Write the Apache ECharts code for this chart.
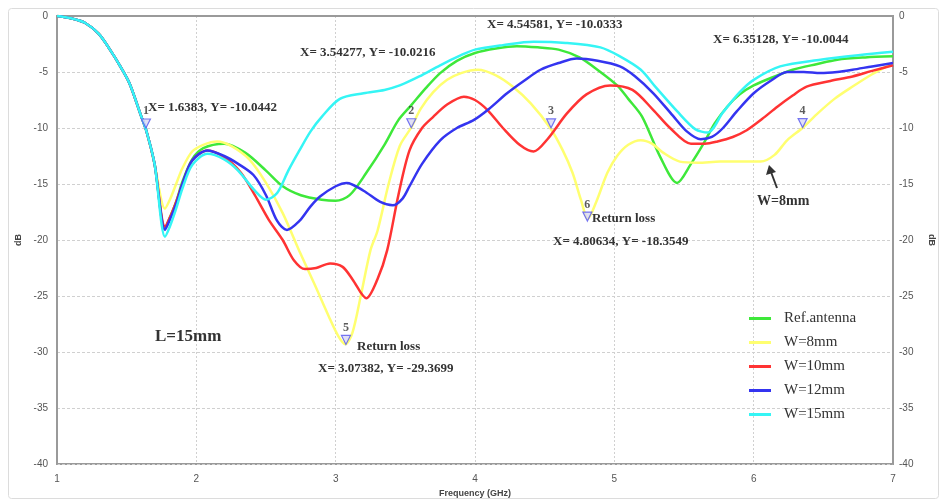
<!DOCTYPE html>
<html>
<head>
<meta charset="utf-8">
<script src="https://cdn.jsdelivr.net/npm/echarts@6/dist/echarts.min.js"></script>
<style>html,body{margin:0;padding:0;background:#fff}#c{width:942px;height:501px}</style>
</head>
<body>
<div id="c"></div>
<script>
// ---- data ----
const seriesNames = ['Ref.antenna', 'W=8mm', 'W=10mm', 'W=12mm', 'W=15mm'];
const xTicks = [1, 2, 3, 4, 5, 6, 7];
const yTicks = [0, -5, -10, -15, -20, -25, -30, -35, -40];

const startF = [1, 1.1, 1.2, 1.3, 1.38, 1.45, 1.52, 1.6, 1.64, 1.7];
const startV = [0, -0.2, -0.6, -1.6, -3.0, -4.4, -6.0, -8.8, -10.2, -13.2];

const refF = [1.775, 1.81, 1.855, 1.9, 1.97, 2.05, 2.2, 2.35, 2.5, 2.62, 2.75, 2.9, 3.0, 3.1, 3.22, 3.35, 3.45, 3.54, 3.65, 3.75, 3.87, 4.0, 4.15, 4.3, 4.45, 4.6, 4.75, 4.9, 5.02, 5.1, 5.2, 5.33, 5.45, 5.55, 5.64, 5.72, 5.81, 5.9, 6.0, 6.15, 6.28, 6.45, 6.6, 6.8, 7.0];
const refV = [-19.0, -18.0, -16.6, -14.8, -12.8, -11.8, -11.4, -12.2, -13.8, -15.2, -16.0, -16.4, -16.5, -16.0, -14.0, -11.5, -9.3, -8.0, -6.4, -5.1, -4.0, -3.3, -2.9, -2.7, -2.8, -3.0, -3.7, -5.0, -6.2, -7.4, -9.0, -12.6, -14.9, -13.2, -11.4, -9.6, -8.1, -7.0, -6.2, -5.4, -4.8, -4.3, -3.9, -3.7, -3.6];

const w8F = [1.775, 1.81, 1.855, 1.9, 1.97, 2.05, 2.15, 2.25, 2.38, 2.5, 2.62, 2.74, 2.85, 2.95, 3.02, 3.07, 3.12, 3.18, 3.25, 3.3, 3.38, 3.46, 3.54, 3.61, 3.7, 3.8, 3.9, 4.02, 4.15, 4.27, 4.4, 4.54, 4.63, 4.7, 4.76, 4.81, 4.87, 4.95, 5.02, 5.1, 5.19, 5.27, 5.35, 5.47, 5.6, 5.76, 5.9, 6.05, 6.15, 6.24, 6.35, 6.45, 6.58, 6.71, 6.85, 7.0];
const w8V = [-17.2, -16.4, -15.0, -13.6, -12.1, -11.5, -11.2, -11.6, -12.8, -14.9, -17.6, -21.0, -24.0, -26.8, -28.6, -29.3, -28.3, -25.0, -20.9, -19.2, -15.0, -11.6, -10.0, -8.3, -6.8, -5.7, -5.1, -4.8, -5.3, -6.3, -7.8, -10.0, -12.0, -14.0, -16.4, -18.1, -16.6, -14.0, -12.5, -11.5, -11.1, -11.4, -12.2, -13.0, -13.1, -13.0, -13.0, -13.0, -12.4, -11.1, -10.0, -8.8, -7.4, -6.3, -5.2, -4.2];

const w10F = [1.775, 1.81, 1.855, 1.9, 1.97, 2.08, 2.2, 2.32, 2.42, 2.52, 2.62, 2.7, 2.78, 2.86, 2.96, 3.05, 3.12, 3.22, 3.3, 3.37, 3.45, 3.53, 3.62, 3.7, 3.8, 3.92, 4.0, 4.09, 4.2, 4.32, 4.42, 4.52, 4.66, 4.8, 4.97, 5.13, 5.28, 5.4, 5.55, 5.65, 5.74, 5.85, 5.95, 6.06, 6.17, 6.28, 6.38, 6.55, 6.71, 6.85, 7.0];
const w10V = [-18.8, -18.0, -16.6, -15.0, -12.9, -12.0, -12.6, -14.0, -16.0, -18.2, -20.0, -21.8, -22.6, -22.5, -22.1, -22.4, -23.5, -25.2, -23.5, -20.9, -16.0, -12.0, -10.0, -9.0, -7.9, -7.2, -7.5, -8.4, -10.0, -11.5, -12.1, -11.0, -8.7, -7.0, -6.2, -6.6, -8.4, -10.0, -11.4, -11.4, -11.2, -10.8, -10.2, -9.2, -8.1, -7.1, -6.3, -5.8, -5.4, -4.9, -4.4];

const w12F = [1.775, 1.81, 1.855, 1.9, 1.97, 2.08, 2.2, 2.3, 2.41, 2.5, 2.58, 2.65, 2.74, 2.82, 2.89, 3.0, 3.08, 3.2, 3.32, 3.41, 3.48, 3.53, 3.62, 3.75, 3.87, 3.99, 4.1, 4.23, 4.35, 4.47, 4.6, 4.73, 4.88, 5.04, 5.15, 5.28, 5.42, 5.52, 5.62, 5.7, 5.78, 5.88, 6.0, 6.12, 6.24, 6.36, 6.48, 6.6, 6.71, 6.85, 7.0];
const w12V = [-19.1, -18.2, -16.8, -15.0, -12.9, -12.0, -12.5, -13.2, -14.2, -16.0, -18.3, -19.1, -18.3, -17.0, -16.1, -15.2, -14.9, -15.6, -16.6, -16.9, -16.3, -15.2, -13.2, -11.1, -10.0, -9.3, -8.3, -6.9, -5.8, -4.8, -4.2, -3.8, -4.0, -4.5, -5.4, -6.9, -8.9, -10.3, -11.0, -10.8, -10.0, -8.5, -6.9, -5.8, -5.0, -5.0, -5.1, -5.0, -4.8, -4.5, -4.2];

const w15F = [1.775, 1.81, 1.855, 1.9, 1.97, 2.08, 2.2, 2.3, 2.42, 2.5, 2.58, 2.66, 2.74, 2.82, 2.9, 3.03, 3.2, 3.35, 3.46, 3.6, 3.75, 3.9, 4.0, 4.2, 4.42, 4.65, 4.9, 5.04, 5.19, 5.3, 5.45, 5.58, 5.67, 5.78, 5.9, 6.0, 6.19, 6.48, 6.75, 7.0];
const w15V = [-19.7, -18.8, -17.2, -15.4, -13.3, -12.3, -12.8, -13.8, -15.6, -16.4, -15.8, -13.8, -12.0, -10.3, -9.0, -7.4, -6.9, -6.6, -6.2, -5.4, -4.4, -3.5, -3.0, -2.6, -2.3, -2.4, -2.8, -3.6, -4.8, -6.4, -8.5, -10.1, -10.4, -8.6, -6.8, -5.7, -4.5, -3.9, -3.5, -3.2];

const markerNames = ['1', '2', '3', '4', '5', '6'];
const markerF = [1.6383, 3.54277, 4.54581, 6.35128, 3.07382, 4.80634];
const markerV = [-10.0442, -10.0216, -10.0333, -10.0044, -29.3699, -18.3549];
const markerTexts = ['X= 1.6383, Y= -10.0442', 'X= 3.54277, Y= -10.0216', 'X= 4.54581, Y= -10.0333', 'X= 6.35128, Y= -10.0044', 'X= 3.07382, Y= -29.3699', 'X= 4.80634, Y= -18.3549'];

// ---- build ----
const colors = ['#3ee83a', '#ffff70', '#ff3333', '#3434f0', '#35f5f5'];
const pairs = (f, v) => startF.map((x, i) => [x, startV[i]]).concat(f.map((x, i) => [x, v[i]]));
const allF = [refF, w8F, w10F, w12F, w15F];
const allV = [refV, w8V, w10V, w12V, w15V];

const chart = echarts.init(document.getElementById('c'));
const serif = 'Liberation Serif';
const lineSeries = seriesNames.map((n, k) => ({
  name: n, type: 'line', data: pairs(allF[k], allV[k]), smooth: 0.3, showSymbol: false,
  lineStyle: { width: 2.5, color: colors[k] }, itemStyle: { color: colors[k] }, z: 3 + k
}));

const axisLabelStyle = { color: '#555', fontSize: 10, fontFamily: 'Liberation Sans' };
chart.setOption({
  animation: false,
  grid: { left: 57, right: 49, top: 16, bottom: 37, show: true, borderColor: '#9a9a9a', borderWidth: 2, outerBoundsMode: 'none', containLabel: false },
  xAxis: {
    type: 'value', min: 1, max: 7, interval: 1,
    name: 'Frequency (GHz)', nameLocation: 'middle', nameGap: 18,
    nameTextStyle: { fontSize: 9, fontWeight: 'bold', color: '#444', fontFamily: 'Liberation Sans' },
    axisLine: { lineStyle: { color: '#9a9a9a', width: 2 } }, axisTick: { show: false },
    axisLabel: Object.assign({ margin: 10 }, axisLabelStyle),
    splitLine: { show: true, lineStyle: { color: '#d0d0d0', type: [2, 2] } }
  },
  yAxis: [{
    type: 'value', min: -40, max: 0, interval: 5, position: 'left',
    name: 'dB', nameLocation: 'middle', nameGap: 34, nameRotate: 90,
    nameTextStyle: { fontSize: 9, fontWeight: 'bold', color: '#444', fontFamily: 'Liberation Sans' },
    axisLine: { show: true, lineStyle: { color: '#9a9a9a', width: 2 } }, axisTick: { show: false },
    axisLabel: Object.assign({ margin: 9 }, axisLabelStyle),
    splitLine: { show: true, lineStyle: { color: '#d0d0d0', type: [3, 2] } }
  }, {
    type: 'value', min: -40, max: 0, interval: 5, position: 'right',
    name: 'dB', nameLocation: 'middle', nameGap: 34, nameRotate: -90,
    nameTextStyle: { fontSize: 9, fontWeight: 'bold', color: '#444', fontFamily: 'Liberation Sans' },
    axisLine: { show: true, lineStyle: { color: '#9a9a9a', width: 2 } }, axisTick: { show: false },
    axisLabel: Object.assign({ margin: 6 }, axisLabelStyle),
    splitLine: { show: false }
  }],
  legend: {
    orient: 'vertical', left: 744, top: 306, itemWidth: 22, itemHeight: 3, itemGap: 9,
    icon: 'rect', data: seriesNames,
    textStyle: { fontFamily: serif, fontSize: 15, color: '#333', padding: [0, 0, 0, 8] }
  },
  series: lineSeries.concat([{
    type: 'scatter', z: 20,
    data: markerF.map((x, i) => ({ value: [x, markerV[i]], name: markerNames[i] })),
    symbol: 'triangle', symbolRotate: 180, symbolSize: 9, symbolOffset: [0, -5],
    itemStyle: { color: '#d8d8f4', borderColor: '#5555ee', borderWidth: 1.2 },
    label: { show: true, position: 'top', distance: 1, formatter: p => p.name,
      fontFamily: serif, fontWeight: 'bold', fontSize: 12, color: '#333' }
  }]),
  graphic: [
    { type: 'rect', left: 6, top: 6, shape: { width: 930, height: 490, r: 3 }, style: { fill: 'none', stroke: '#dcdcdc', lineWidth: 1 }, z: 0 },
    { type: 'text', left: 148, top: 101, style: { text: markerTexts[0], font: 'bold 13px "Liberation Serif"', fill: '#333' }, z: 30 },
    { type: 'text', left: 300, top: 46, style: { text: markerTexts[1], font: 'bold 13px "Liberation Serif"', fill: '#333' }, z: 30 },
    { type: 'text', left: 487, top: 18, style: { text: markerTexts[2], font: 'bold 13px "Liberation Serif"', fill: '#333' }, z: 30 },
    { type: 'text', left: 713, top: 33, style: { text: markerTexts[3], font: 'bold 13px "Liberation Serif"', fill: '#333' }, z: 30 },
    { type: 'text', left: 357, top: 340, style: { text: 'Return loss', font: 'bold 13px "Liberation Serif"', fill: '#333' }, z: 30 },
    { type: 'text', left: 318, top: 362, style: { text: markerTexts[4], font: 'bold 13px "Liberation Serif"', fill: '#333' }, z: 30 },
    { type: 'text', left: 592, top: 212, style: { text: 'Return loss', font: 'bold 13px "Liberation Serif"', fill: '#333' }, z: 30 },
    { type: 'text', left: 553, top: 235, style: { text: markerTexts[5], font: 'bold 13px "Liberation Serif"', fill: '#333' }, z: 30 },
    { type: 'text', left: 757, top: 194, style: { text: 'W=8mm', font: 'bold 14px "Liberation Serif"', fill: '#333' }, z: 30 },
    { type: 'text', left: 155, top: 328, style: { text: 'L=15mm', font: 'bold 17px "Liberation Serif"', fill: '#333' }, z: 30 },
    { type: 'line', shape: { x1: 777, y1: 188, x2: 771, y2: 172 }, style: { stroke: '#333', lineWidth: 2 }, z: 30 },
    { type: 'polygon', shape: { points: [[769, 165], [766, 175], [776, 172]] }, style: { fill: '#333' }, z: 30 }
  ]
});
</script>
</body>
</html>
